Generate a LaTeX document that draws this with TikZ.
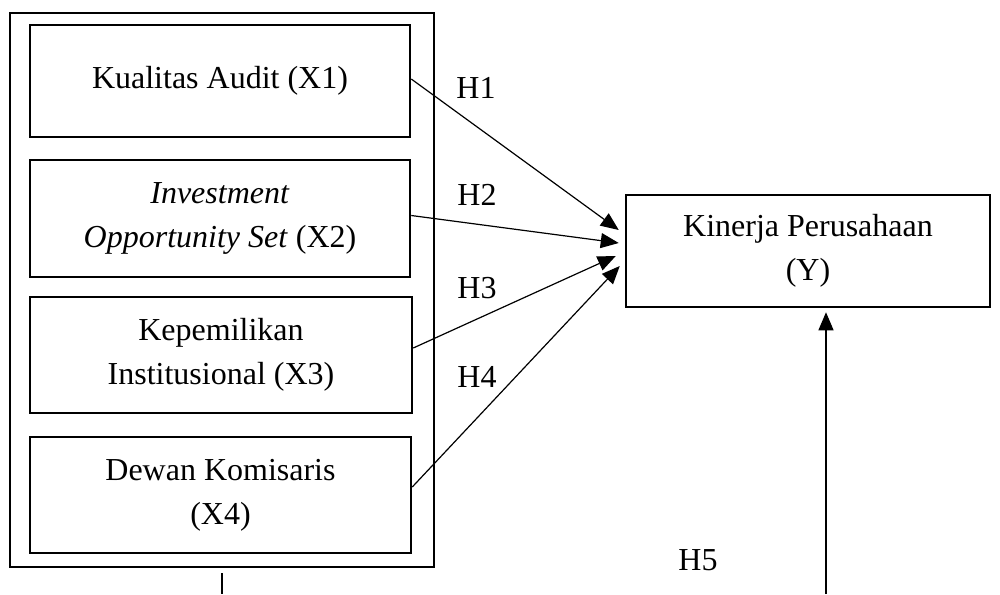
\documentclass[tikz,border=0pt]{standalone}
\usepackage{fontspec}
\setmainfont{Liberation Serif}
\usetikzlibrary{arrows.meta}
\begin{document}
\begin{tikzpicture}[x=1pt,y=-1pt,
  box/.style={draw,line width=2.5pt,rectangle,align=center,inner sep=0pt,font=\fontsize{32}{44}\selectfont},
  lbl/.style={font=\fontsize{32}{44}\selectfont,inner sep=0pt},
  link/.style={line width=1.2pt,-{Triangle[length=18pt,width=15pt]}}]
\useasboundingbox (0,0) rectangle (1000,594);
\node[box, minimum width=424pt, minimum height=554pt] (outer) at (222,290) {};
\node[box, minimum width=380pt, minimum height=112pt] (b1) at (220,81) {Kualitas Audit (X1)};
\node[box, minimum width=380pt, minimum height=117pt] (b2) at (220,218.5) {\textit{Investment}\\\textit{Opportunity Set} (X2)};
\node[box, minimum width=382pt, minimum height=116pt] (b3) at (221,355) {Kepemilikan\\Institusional (X3)};
\node[box, minimum width=381pt, minimum height=116pt] (b4) at (220.5,495) {Dewan Komisaris\\(X4)};
\node[box, minimum width=364pt, minimum height=112pt] (y) at (808,251) {Kinerja Perusahaan\\(Y)};
\node[lbl] (h1) at (476,88) {H1};
\node[lbl] (h2) at (477,195) {H2};
\node[lbl] (h3) at (477,288) {H3};
\node[lbl] (h4) at (477,377) {H4};
\node[lbl] (h5) at (698,560) {H5};
\coordinate (stub) at (222,594);
\coordinate (h5src) at (826,594);
\draw[link] ([yshift=2pt]b1.east) -- ([xshift=-6pt,yshift=21pt]y.west);
\draw[link] ([yshift=3pt]b2.east) -- ([xshift=-6pt,yshift=8pt]y.west);
\draw[link] ([yshift=7pt]b3.east) -- ([xshift=-9pt,yshift=-5pt]y.west);
\draw[link] ([yshift=8pt]b4.east) -- ([xshift=-5pt,yshift=-15pt]y.west);
\draw[link] (h5src) -- ([xshift=18pt,yshift=-4pt]y.south);
\draw[line width=1.2pt] ([yshift=-5pt]outer.south) -- (stub);
\end{tikzpicture}
\end{document}
